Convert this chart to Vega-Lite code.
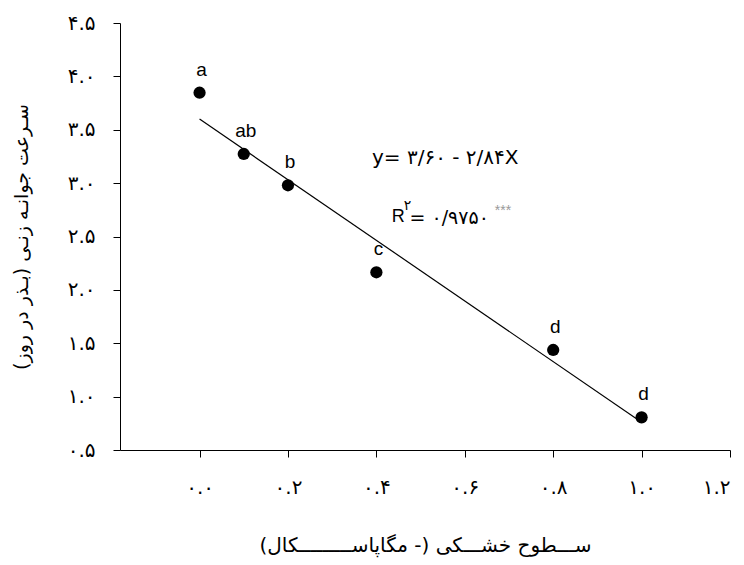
{
  "$schema": "https://vega.github.io/schema/vega-lite/v6.json",
  "width": 610,
  "height": 427,
  "autosize": "none",
  "padding": {"left": 120, "top": 23, "right": 14, "bottom": 115},
  "background": "white",
  "config": {
    "view": {"stroke": null},
    "font": "Liberation Sans, DejaVu Sans",
    "axis": {
      "grid": false,
      "domainColor": "black",
      "tickColor": "black",
      "labelColor": "black",
      "titleColor": "black",
      "domainWidth": 1,
      "tickWidth": 1,
      "tickSize": 7,
      "labelFontSize": 20,
      "titleFontSize": 19,
      "titleFontWeight": "normal",
      "labelFont": "DejaVu Sans",
      "titleFont": "DejaVu Sans"
    }
  },
  "layer": [
    {
      "data": {"values": [{"drought": 0, "rate": 3.60}, {"drought": 1.0, "rate": 0.76}]},
      "mark": {"type": "line", "color": "black", "strokeWidth": 1.2},
      "encoding": {
        "x": {
          "field": "drought", "type": "quantitative",
          "scale": {"domain": [-0.18, 1.2], "nice": false, "zero": false},
          "axis": {
            "values": [0, 0.2, 0.4, 0.6, 0.8, 1.0, 1.2],
            "labelExpr": "slice('\u06f0\u06f1\u06f2\u06f3\u06f4\u06f5\u06f6\u06f7\u06f8\u06f9', floor(datum.value + 0.000001), floor(datum.value + 0.000001) + 1) + '.' + slice('\u06f0\u06f1\u06f2\u06f3\u06f4\u06f5\u06f6\u06f7\u06f8\u06f9', round(datum.value * 10) % 10, round(datum.value * 10) % 10 + 1)",
            "labelPadding": 20,
            "title": "\u200fســـطوح خشـــکی (- مگاپاســـــــــکال)\u200f",
            "titleFontSize": 20,
            "titlePadding": 38
          }
        },
        "y": {
          "field": "rate", "type": "quantitative",
          "scale": {"domain": [0.5, 4.5], "nice": false, "zero": false},
          "axis": {
            "values": [0.5, 1.0, 1.5, 2.0, 2.5, 3.0, 3.5, 4.0, 4.5],
            "labelExpr": "slice('\u06f0\u06f1\u06f2\u06f3\u06f4\u06f5\u06f6\u06f7\u06f8\u06f9', floor(datum.value + 0.000001), floor(datum.value + 0.000001) + 1) + '.' + slice('\u06f0\u06f1\u06f2\u06f3\u06f4\u06f5\u06f6\u06f7\u06f8\u06f9', round(datum.value * 10) % 10, round(datum.value * 10) % 10 + 1)",
            "labelPadding": 18,
            "title": "\u200fسـرعت جوانـه زنـی (بـذر در روز)\u200f",
            "titlePadding": 36
          }
        }
      }
    },
    {
      "data": {"values": [
        {"drought": 0.0, "rate": 3.847, "group": "a"},
        {"drought": 0.1, "rate": 3.273, "group": "ab"},
        {"drought": 0.2, "rate": 2.98, "group": "b"},
        {"drought": 0.4, "rate": 2.165, "group": "c"},
        {"drought": 0.8, "rate": 1.437, "group": "d"},
        {"drought": 1.0, "rate": 0.806, "group": "d"}
      ]},
      "layer": [
        {
          "mark": {"type": "circle", "color": "black", "size": 150, "opacity": 1},
          "encoding": {
            "x": {"field": "drought", "type": "quantitative"},
            "y": {"field": "rate", "type": "quantitative"}
          }
        },
        {
          "mark": {"type": "text", "fontSize": 19, "dy": -23, "dx": 2, "color": "black", "font": "Liberation Sans"},
          "encoding": {
            "x": {"field": "drought", "type": "quantitative"},
            "y": {"field": "rate", "type": "quantitative"},
            "text": {"field": "group"}
          }
        }
      ]
    },
    {
      "data": {"values": [{"t": "y= \u06f3/\u06f6\u06f0 - \u06f2/\u06f8\u06f4X"}]},
      "mark": {"type": "text", "align": "left", "baseline": "middle", "fontSize": 20, "color": "black", "font": "DejaVu Sans"},
      "encoding": {"x": {"datum": 0.39}, "y": {"datum": 3.235}, "text": {"field": "t"}}
    },
    {
      "data": {"values": [{"t": "R"}]},
      "mark": {"type": "text", "align": "left", "baseline": "middle", "fontSize": 18, "color": "black"},
      "encoding": {"x": {"datum": 0.435}, "y": {"datum": 2.683}, "text": {"field": "t"}}
    },
    {
      "data": {"values": [{"t": "\u06f2"}]},
      "mark": {"type": "text", "align": "left", "baseline": "middle", "fontSize": 14, "color": "black", "font": "DejaVu Sans"},
      "encoding": {"x": {"datum": 0.462}, "y": {"datum": 2.79}, "text": {"field": "t"}}
    },
    {
      "data": {"values": [{"t": "= \u06f0/\u06f9\u06f7\u06f5\u06f0"}]},
      "mark": {"type": "text", "align": "left", "baseline": "middle", "fontSize": 19, "color": "black", "font": "DejaVu Sans"},
      "encoding": {"x": {"datum": 0.475}, "y": {"datum": 2.673}, "text": {"field": "t"}}
    },
    {
      "data": {"values": [{"t": "***"}]},
      "mark": {"type": "text", "align": "left", "baseline": "middle", "fontSize": 14, "color": "#999999"},
      "encoding": {"x": {"datum": 0.668}, "y": {"datum": 2.74}, "text": {"field": "t"}}
    }
  ]
}
